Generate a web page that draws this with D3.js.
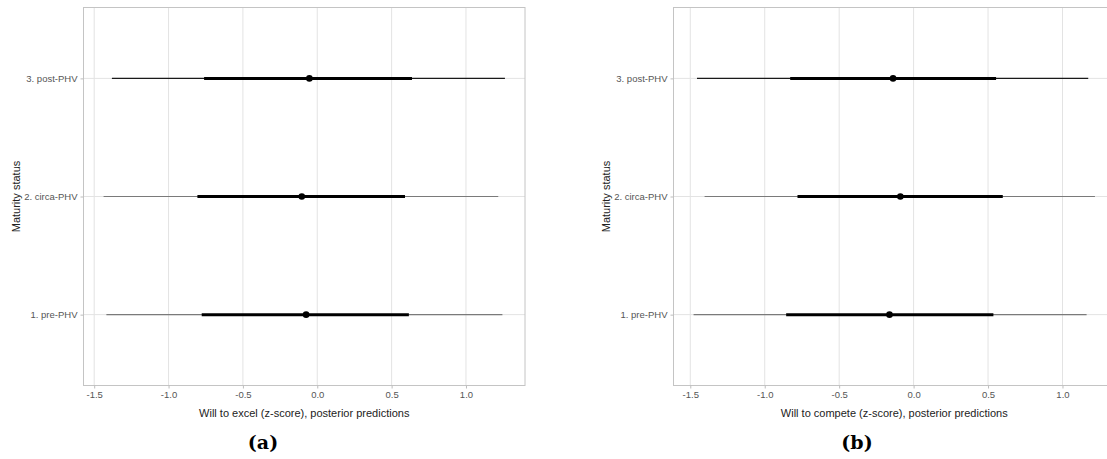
<!DOCTYPE html>
<html>
<head>
<meta charset="utf-8">
<script src="https://cdn.jsdelivr.net/npm/d3@7"></script>
<style>
  html, body { margin: 0; padding: 0; background: #fff; }
  svg { display: block; }
</style>
</head>
<body>
<svg id="chart" width="1107" height="459"></svg>
<script>
// ---- data ----
const categories = ["3. post-PHV", "2. circa-PHV", "1. pre-PHV"];
const tickValues = [-1.5, -1.0, -0.5, 0.0, 0.5, 1.0];
const tickLabels = ["-1.5", "-1.0", "-0.5", "0.0", "0.5", "1.0"];

// panel (a): Will to excel
const excelMedian  = [-0.053, -0.104, -0.075];
const excelInnerLo = [-0.761, -0.806, -0.777];
const excelInnerHi = [ 0.637,  0.590,  0.616];
const excelOuterLo = [-1.381, -1.437, -1.418];
const excelOuterHi = [ 1.262,  1.217,  1.245];

// panel (b): Will to compete
const competeMedian  = [-0.138, -0.089, -0.162];
const competeInnerLo = [-0.829, -0.780, -0.856];
const competeInnerHi = [ 0.554,  0.599,  0.536];
const competeOuterLo = [-1.455, -1.404, -1.478];
const competeOuterHi = [ 1.173,  1.218,  1.162];

const yTitle = "Maturity status";
const xTitleA = "Will to excel (z-score), posterior predictions";
const xTitleB = "Will to compete (z-score), posterior predictions";

// ---- styles ----
const outerColor = {"3. post-PHV": "#1a1a1a", "2. circa-PHV": "#7a7a7a", "1. pre-PHV": "#7a7a7a"};
const svg = d3.select("#chart");
const font = "'Liberation Sans', Arial, sans-serif";

function drawPanel(cfg) {
  const g = svg.append("g");
  const rows = categories.map((c, i) => ({
    cat: c, med: cfg.med[i], ilo: cfg.ilo[i], ihi: cfg.ihi[i], olo: cfg.olo[i], ohi: cfg.ohi[i]
  }));
  const mn = d3.min(rows, d => d.olo), mx = d3.max(rows, d => d.ohi);
  const ex = (mx - mn) * 0.05;
  const x = d3.scaleLinear().domain([mn - ex, mx + ex]).range([cfg.left, cfg.left + cfg.width]);
  const y = d3.scalePoint().domain(categories).range([cfg.top, cfg.bottom]).padding(0.6);

  // grid
  g.append("g").selectAll("line").data(tickValues).join("line")
    .attr("x1", d => x(d)).attr("x2", d => x(d))
    .attr("y1", cfg.top).attr("y2", cfg.bottom)
    .attr("stroke", "#e3e3e3").attr("stroke-width", 1);
  g.append("g").selectAll("line").data(categories).join("line")
    .attr("x1", cfg.left).attr("x2", cfg.left + cfg.width)
    .attr("y1", d => y(d)).attr("y2", d => y(d))
    .attr("stroke", "#e3e3e3").attr("stroke-width", 1);

  // intervals
  const m = g.append("g");
  m.selectAll("line.outer").data(rows).join("line").attr("class", "outer")
    .attr("x1", d => x(d.olo)).attr("x2", d => x(d.ohi))
    .attr("y1", d => y(d.cat)).attr("y2", d => y(d.cat))
    .attr("stroke", d => outerColor[d.cat]).attr("stroke-width", 1.2);
  m.selectAll("line.inner").data(rows).join("line").attr("class", "inner")
    .attr("x1", d => x(d.ilo)).attr("x2", d => x(d.ihi))
    .attr("y1", d => y(d.cat)).attr("y2", d => y(d.cat))
    .attr("stroke", "#000").attr("stroke-width", 3);
  m.selectAll("circle").data(rows).join("circle")
    .attr("cx", d => x(d.med)).attr("cy", d => y(d.cat)).attr("r", 3.3)
    .attr("fill", "#000");

  // border
  g.append("rect").attr("x", cfg.left).attr("y", cfg.top)
    .attr("width", cfg.width).attr("height", cfg.bottom - cfg.top)
    .attr("fill", "none").attr("stroke", "#c4c4c4").attr("stroke-width", 1);

  // x axis
  const xa = g.append("g").attr("transform", `translate(0,${cfg.bottom})`)
    .call(d3.axisBottom(x).tickValues(tickValues).tickSize(3).tickPadding(3)
      .tickFormat((d, i) => tickLabels[i]));
  xa.select(".domain").remove();
  xa.selectAll(".tick line").attr("stroke", "#bdbdbd");
  xa.selectAll(".tick text").attr("fill", "#555").style("font-family", font).style("font-size", "9.5px");

  // y axis
  const ya = g.append("g").attr("transform", `translate(${cfg.left},0)`)
    .call(d3.axisLeft(y).tickSize(3).tickPadding(3));
  ya.select(".domain").remove();
  ya.selectAll(".tick line").attr("stroke", "#bdbdbd");
  ya.selectAll(".tick text").attr("fill", "#555").style("font-family", font).style("font-size", "9.5px");

  // titles
  g.append("text").attr("x", cfg.left + cfg.width / 2).attr("y", 417)
    .attr("text-anchor", "middle").attr("fill", "#222")
    .style("font-family", font).style("font-size", "11px").text(cfg.xTitle);
  g.append("text").attr("transform", `translate(${cfg.yTitleX},${(cfg.top + cfg.bottom) / 2}) rotate(-90)`)
    .attr("text-anchor", "middle").attr("fill", "#222")
    .style("font-family", font).style("font-size", "11px").text(yTitle);
  g.append("text").attr("x", cfg.capX).attr("y", 449)
    .attr("text-anchor", "middle").attr("fill", "#000")
    .style("font-family", "'DejaVu Serif', 'Liberation Serif', serif").style("font-weight", "bold")
    .style("font-size", "19px").text(cfg.caption);
}

drawPanel({
  med: excelMedian, ilo: excelInnerLo, ihi: excelInnerHi, olo: excelOuterLo, ohi: excelOuterHi,
  left: 83.5, width: 441.5, top: 7.5, bottom: 385.5, xTitle: xTitleA, yTitleX: 20, capX: 263, caption: "(a)"
});
drawPanel({
  med: competeMedian, ilo: competeInnerLo, ihi: competeInnerHi, olo: competeOuterLo, ohi: competeOuterHi,
  left: 673.5, width: 441.5, top: 7.5, bottom: 385.5, xTitle: xTitleB, yTitleX: 610, capX: 857, caption: "(b)"
});
</script>
</body>
</html>
